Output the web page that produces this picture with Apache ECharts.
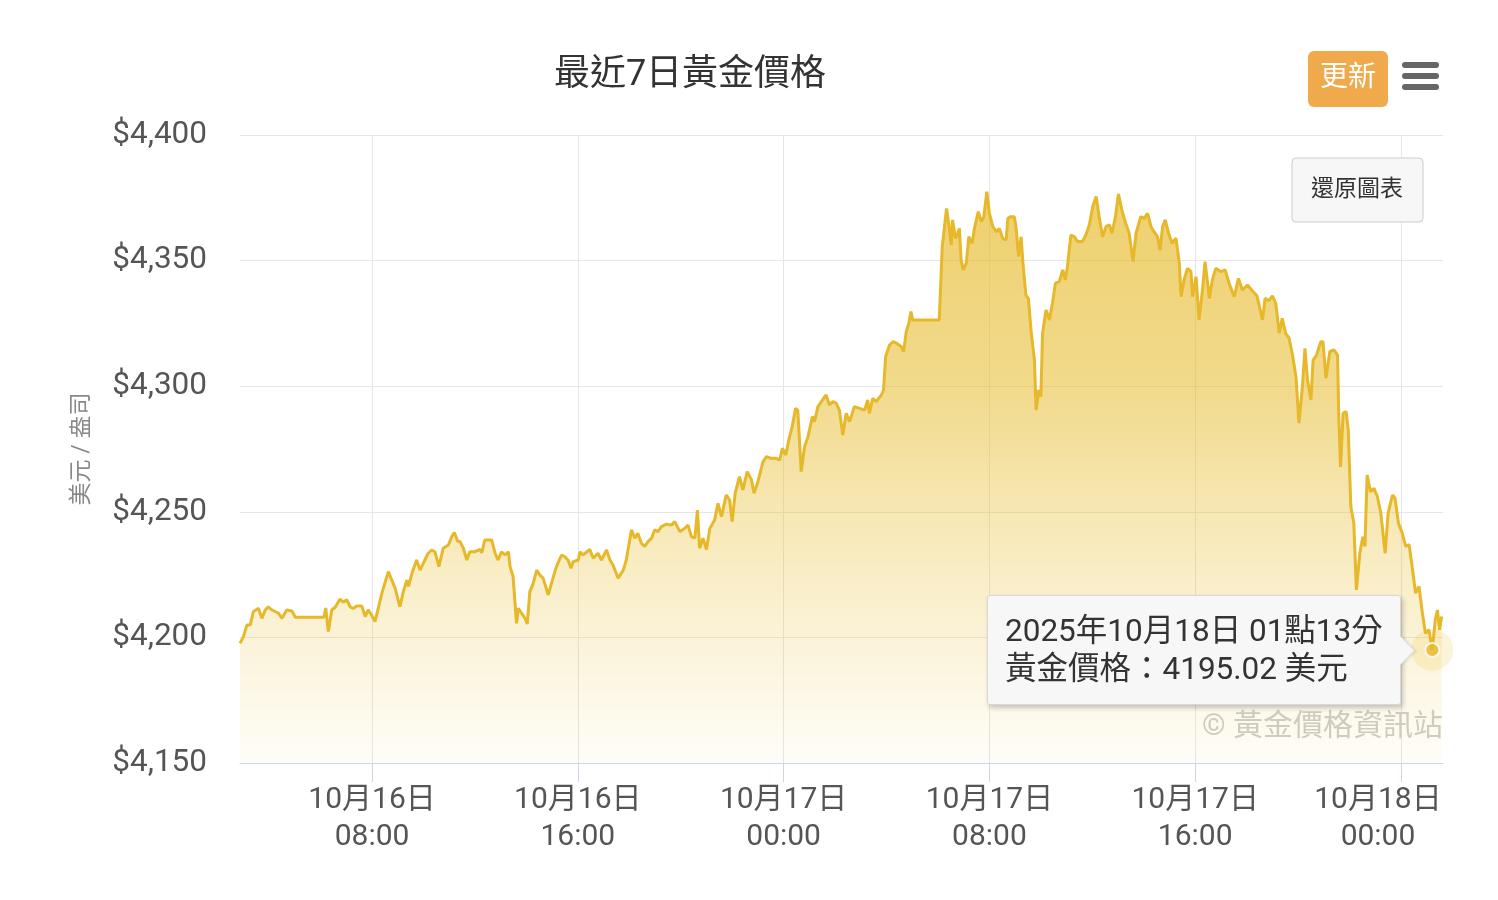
<!DOCTYPE html>
<html>
<head>
<meta charset="utf-8">
<script src="https://cdn.jsdelivr.net/npm/echarts@6/dist/echarts.min.js"></script>
<style>
html,body{margin:0;padding:0;background:#fff;}
#chart{width:1498px;height:900px;}
/* callout pointer on the right side of the ECharts tooltip box */
#chart > div + div::after{
  content:'';position:absolute;right:-11px;top:50%;width:20px;height:20px;margin-top:-10px;
  background:#f7f7f7;border-top:1px solid #d9d9d9;border-right:1px solid #d9d9d9;
  transform:rotate(45deg);box-shadow:2px -1px 2px rgba(0,0,0,0.08);
}
</style>
</head>
<body>
<div id="chart"></div>
<script>
// ---- data (minutes since 2025-10-16 00:00, price in USD / oz) ----
const timeMinutes = [
172,180,188,196,203,207,215,223,231,238,246,262,270,281,293,301,368,372,378,386,
394,405,413,421,429,436,444,456,464,471,479,487,503,518,522,534,545,553,561,565,
573,584,592,603,611,619,627,636,646,658,666,672,680,685,693,701,708,720,732,736,
743,759,767,774,782,790,798,802,809,817,821,829,837,842,848,856,864,871,879,891,
902,910,922,930,937,944,949,961,965,972,988,996,1007,1015,1027,1035,1042,1054,1066,1073,
1085,1093,1100,1108,1116,1124,1132,1139,1147,1155,1167,1178,1186,1198,1209,1217,1225,1233,1239,1244,
1252,1260,1268,1279,1287,1295,1306,1314,1320,1327,1337,1345,1355,1365,1371,1380,1392,1400,1411,1423,
1431,1437,1445,1452,1460,1468,1473,1481,1489,1497,1507,1512,1520,1528,1539,1547,1555,1563,1570,1578,
1586,1594,1605,1617,1629,1636,1640,1648,1656,1668,1673,1678,1687,1695,1703,1714,1720,1726,1732,1737,
1741,1803,1810,1820,1825,1831,1834,1841,1846,1850,1854,1859,1866,1872,1880,1885,1894,1901,1907,1914,
1920,1928,1936,1943,1951,1959,1963,1970,1978,1982,1988,1994,1998,2005,2011,2017,2025,2029,2035,2040,
2044,2052,2060,2067,2074,2083,2091,2097,2102,2110,2118,2126,2137,2145,2153,2161,2169,2176,2184,2192,
2200,2206,2214,2221,2229,2238,2246,2255,2262,2273,2281,2289,2297,2304,2312,2318,2324,2330,2338,2346,
2355,2363,2367,2374,2382,2390,2394,2402,2409,2417,2423,2433,2440,2448,2460,2470,2479,2491,2501,2510,
2522,2533,2544,2557,2563,2572,2580,2588,2596,2603,2611,2619,2627,2635,2642,2650,2656,2662,2670,2675,
2683,2693,2698,2705,2714,2724,2732,2735,2739,2745,2752,2757,2763,2770,2776,2784,2791,2796,2801,2809,
2817,2825,2833,2843,2850,2860,2866,2874,2883,2891,2899,2906,2914,2922,2930,2937,2945,2953,2960,2965,
2970,2975
];
const priceUSD = [
4197.6,4200.3,4204.9,4205.0,4210.2,4209.5,4211.6,4207.6,4210.9,4212.2,4211.0,4209.6,4207.6,4210.9,4210.5,4208.0,4208.0,4211.7,4202.3,4210.9,
4212.0,4215.2,4214.0,4215.0,4212.2,4211.5,4212.5,4212.5,4208.3,4211.0,4208.8,4206.3,4217.6,4226.2,4226.8,4219.5,4212.2,4218.2,4222.8,4220.3,
4225.5,4230.8,4226.8,4230.8,4233.5,4234.8,4234.0,4228.2,4235.5,4236.8,4240.1,4241.7,4238.2,4238.2,4235.5,4230.8,4234.1,4234.1,4235.0,4233.7,
4238.8,4238.8,4233.5,4230.8,4234.1,4232.8,4234.1,4228.2,4224.2,4205.6,4211.6,4209.6,4207.6,4205.3,4218.2,4221.5,4226.8,4224.9,4223.6,4216.9,
4223.6,4228.2,4232.8,4232.1,4230.8,4227.5,4230.1,4230.8,4234.1,4232.8,4235.0,4231.5,4233.5,4230.8,4234.8,4230.8,4228.8,4223.6,4226.8,4230.8,
4242.8,4239.5,4241.5,4237.5,4236.2,4238.2,4239.5,4242.8,4242.1,4244.1,4245.1,4244.7,4246.1,4242.1,4243.4,4244.7,4240.1,4239.5,4250.7,4235.5,
4239.5,4235.0,4243.4,4246.7,4253.4,4248.1,4256.7,4254.7,4246.1,4257.4,4264.0,4258.7,4266.0,4262.7,4257.4,4262.0,4270.0,4272.0,4271.3,4271.3,
4270.6,4275.3,4272.6,4278.6,4283.9,4291.2,4290.5,4266.0,4276.0,4280.0,4287.9,4285.9,4291.9,4293.9,4296.5,4292.5,4293.9,4293.2,4290.5,4280.6,
4289.2,4285.9,4291.9,4291.2,4290.5,4294.5,4289.2,4295.2,4293.9,4296.5,4298.5,4311.8,4316.4,4317.7,4317.1,4315.8,4313.8,4321.7,4325.0,4329.7,
4326.4,4326.4,4355.5,4370.8,4364.8,4356.2,4366.2,4358.9,4360.9,4362.8,4350.2,4346.3,4348.9,4359.5,4356.9,4362.8,4369.5,4365.5,4367.5,4377.4,
4368.8,4363.5,4361.5,4362.8,4358.9,4358.2,4366.8,4367.5,4367.5,4363.5,4351.6,4359.5,4349.6,4336.3,4334.9,4322.4,4310.4,4290.5,4298.5,4295.8,
4321.1,4330.3,4326.4,4333.0,4341.0,4341.6,4346.3,4342.3,4347.6,4360.2,4359.5,4357.6,4357.6,4360.2,4364.2,4371.5,4375.5,4367.5,4359.5,4363.5,
4364.2,4360.9,4367.5,4376.5,4370.1,4364.8,4360.9,4349.6,4360.9,4367.5,4366.8,4368.8,4363.5,4361.5,4359.5,4354.2,4363.5,4366.2,4360.9,4356.9,
4358.9,4348.9,4335.6,4342.3,4346.9,4345.6,4335.6,4343.6,4326.4,4338.3,4349.6,4335.0,4342.3,4346.9,4345.6,4346.3,4341.0,4335.6,4342.9,4338.3,
4340.3,4338.0,4336.0,4326.4,4335.0,4334.0,4336.0,4333.0,4321.1,4327.0,4321.0,4319.1,4312.4,4303.8,4285.3,4299.8,4315.1,4302.5,4294.5,4310.4,
4312.4,4317.7,4317.7,4303.2,4313.8,4314.4,4312.4,4287.9,4267.9,4289.2,4289.9,4282.6,4252.1,4245.5,4218.9,4233.5,4240.1,4236.2,4264.6,4258.0,
4259.3,4256.0,4249.4,4233.5,4249.4,4256.7,4255.4,4245.5,4241.5,4236.2,4236.9,4228.2,4217.6,4220.3,4209.6,4201.6,4203.0,4195.02,4207.0,4210.9,
4203.0,4208.3
];
const hoverMinute = 2953;              // point shown in tooltip (10/18 01:13)
const axisStartMinute = 172;           // visible range start
const axisEndMinute = 2978;            // visible range end
const tickMinutes = [480, 960, 1440, 1920, 2400, 2880];
const tickLabels = ['10月16日\n08:00', '10月16日\n16:00', '10月17日\n00:00', '10月17日\n08:00', '10月17日\n16:00', '10月18日\n00:00'];
const yMin = 4150, yMax = 4400, yStep = 50;
const chartTitle = '最近7日黃金價格';
const yAxisName = '美元 / 盎司';
const watermark = '© 黃金價格資訊站';

// ---- build ----
const FONT = "Roboto, 'Noto Sans CJK TC', sans-serif";
const base = new Date(2025, 9, 16, 0, 0, 0).getTime();
const seriesData = timeMinutes.map((m, i) => [m, priceUSD[i]]);
const hoverIdx = timeMinutes.indexOf(hoverMinute);
const hoverPoint = seriesData[hoverIdx];

function money(v) {
  const s = String(Math.round(v));
  return '$' + s.replace(/\B(?=(\d{3})+(?!\d))/g, ',');
}
function pad2(n) { return (n < 10 ? '0' : '') + n; }

const chart = echarts.init(document.getElementById('chart'), null, { renderer: 'canvas' });
const option = {
  animation: false,
  grid: { left: 240, top: 135, right: 55, bottom: 137, containLabel: false },
  xAxis: {
    type: 'value',
    min: axisStartMinute,
    max: axisEndMinute,
    axisLine: { show: true, lineStyle: { color: '#ccd6eb', width: 1 } },
    axisTick: { show: true, customValues: tickMinutes, length: 19, lineStyle: { color: '#ccd6eb', width: 1 } },
    splitLine: { show: true, lineStyle: { color: '#e6e6e6', width: 1 } },
    axisLabel: {
      customValues: tickMinutes,
      margin: 19,
      fontSize: 30,
      lineHeight: 37,
      color: '#555',
      fontFamily: FONT,
      formatter: function (value) {
        const i = tickMinutes.indexOf(Math.round(value));
        if (i < 0) return '';
        const lab = tickLabels[i];
        if (i === tickMinutes.length - 1) {
          return lab.split('\n').map(s => '{shift|' + s + '}').join('\n');
        }
        return lab;
      },
      rich: {
        shift: { padding: [0, 46, 0, 0], fontSize: 30, lineHeight: 37, color: '#555', fontFamily: FONT }
      }
    }
  },
  yAxis: {
    type: 'value',
    min: yMin,
    max: yMax,
    interval: yStep,
    name: yAxisName,
    nameLocation: 'middle',
    nameGap: 146,
    nameRotate: 90,
    nameTextStyle: { fontSize: 23, color: '#888', fontFamily: FONT },
    axisLine: { show: false },
    axisTick: { show: false },
    splitLine: { show: true, lineStyle: { color: '#e6e6e6', width: 1 } },
    axisLabel: { margin: 33, fontSize: 31.5, color: '#555', fontFamily: FONT, formatter: money }
  },
  tooltip: {
    trigger: 'item',
    triggerOn: 'none',
    alwaysShowContent: true,
    position: 'left',
    transitionDuration: 0,
    backgroundColor: 'rgba(247,247,247,1)',
    borderColor: '#d9d9d9',
    borderWidth: 1,
    padding: [16, 17],
    textStyle: { fontSize: 31.5, lineHeight: 38, color: '#333', fontFamily: FONT },
    extraCssText: 'box-shadow: 2px 3px 5px rgba(0,0,0,0.22); border-radius: 3px;',
    formatter: function (p) {
      const d = new Date(base + p.value[0] * 60000);
      const line1 = d.getFullYear() + '年' + (d.getMonth() + 1) + '月' + d.getDate() + '日 ' +
        pad2(d.getHours()) + '點' + pad2(d.getMinutes()) + '分';
      const line2 = '黃金價格：' + p.value[1].toFixed(2) + ' 美元';
      return line1 + '<br/>' + line2;
    }
  },
  series: [
    {
      type: 'line',
      data: seriesData,
      showSymbol: false,
      symbol: 'none',
      sampling: 'none',
      silent: true,
      emphasis: { disabled: true },
      lineStyle: { color: '#e6b82a', width: 3 },
      itemStyle: { color: '#e6b82a' },
      areaStyle: {
        color: new echarts.graphic.LinearGradient(0, 0, 0, 1, [
          { offset: 0, color: 'rgba(230,184,36,0.95)' },
          { offset: 0.35, color: 'rgba(230,186,40,0.76)' },
          { offset: 0.7, color: 'rgba(233,192,50,0.36)' },
          { offset: 1, color: 'rgba(236,196,60,0.05)' }
        ])
      },
      z: 2
    },
    {
      type: 'scatter',
      data: [hoverPoint],
      symbol: 'circle',
      symbolSize: 42,
      itemStyle: { color: 'rgba(236,190,45,0.22)' },
      emphasis: { disabled: true },
      z: 3
    },
    {
      type: 'scatter',
      data: [hoverPoint],
      symbol: 'circle',
      symbolSize: 14,
      silent: true,
      itemStyle: { color: '#e6b82a', borderColor: '#ffffff', borderWidth: 2 },
      emphasis: { disabled: true },
      z: 4
    }
  ],
  graphic: [
    { type: 'text', x: 690, y: 76, style: { text: chartTitle, fontSize: 36, fill: '#333', align: 'center', verticalAlign: 'middle', fontFamily: FONT }, z: 10 },
    { type: 'rect', shape: { x: 1308, y: 51, width: 80, height: 56, r: 6 }, style: { fill: '#f0a94b' }, z: 10 },
    { type: 'text', x: 1348, y: 79, style: { text: '更新', fontSize: 28, fill: '#ffffff', align: 'center', verticalAlign: 'middle', fontFamily: FONT }, z: 11 },
    { type: 'line', shape: { x1: 1405, y1: 65, x2: 1436, y2: 65 }, style: { stroke: '#666', lineWidth: 6, lineCap: 'round' }, z: 10 },
    { type: 'line', shape: { x1: 1405, y1: 76, x2: 1436, y2: 76 }, style: { stroke: '#666', lineWidth: 6, lineCap: 'round' }, z: 10 },
    { type: 'line', shape: { x1: 1405, y1: 87, x2: 1436, y2: 87 }, style: { stroke: '#666', lineWidth: 6, lineCap: 'round' }, z: 10 },
    { type: 'rect', shape: { x: 1292, y: 158, width: 131, height: 64, r: 4 }, style: { fill: '#f7f7f7', stroke: '#cccccc', lineWidth: 1 }, z: 10 },
    { type: 'text', x: 1357, y: 190, style: { text: '還原圖表', fontSize: 23, fill: '#333', align: 'center', verticalAlign: 'middle', fontFamily: FONT }, z: 11 },
    { type: 'text', x: 1443, y: 727, style: { text: watermark, fontSize: 30, fill: '#cccccc', align: 'right', verticalAlign: 'middle', fontFamily: FONT }, z: 1 }
  ]
};
chart.setOption(option);
function showTip() { chart.dispatchAction({ type: 'showTip', seriesIndex: 1, dataIndex: 0 }); }
showTip();
setTimeout(showTip, 0);
</script>
</body>
</html>
